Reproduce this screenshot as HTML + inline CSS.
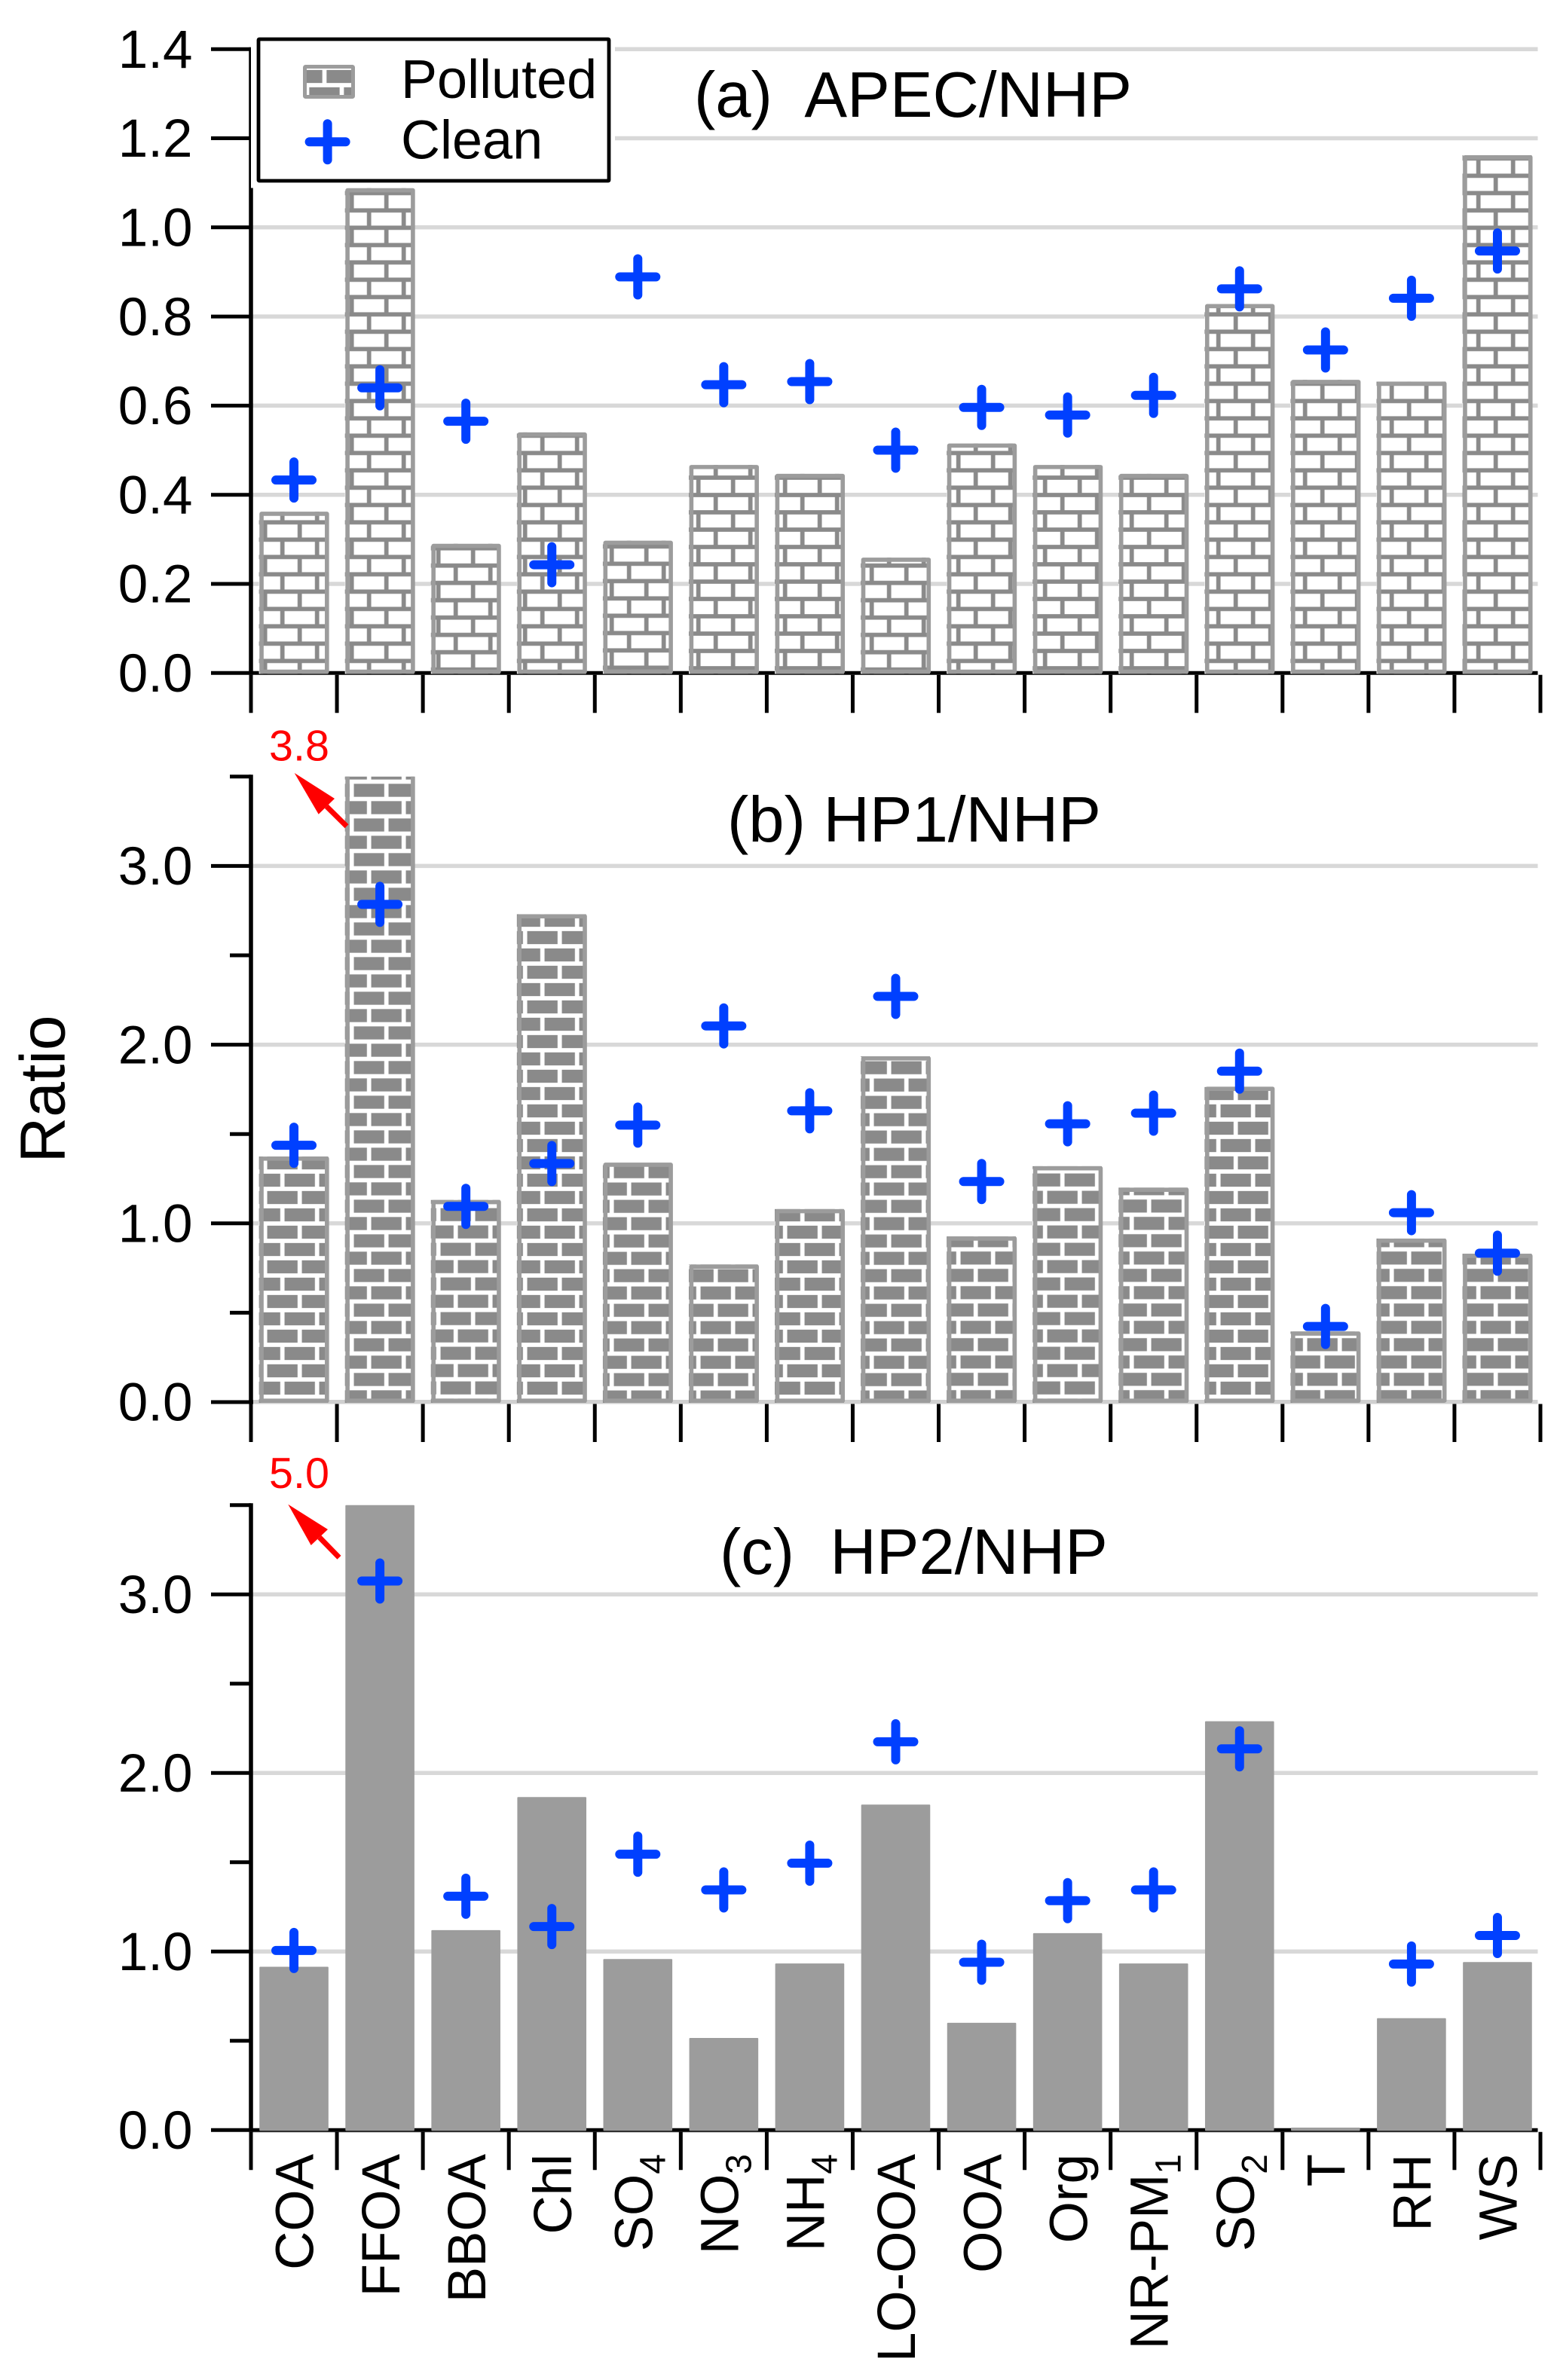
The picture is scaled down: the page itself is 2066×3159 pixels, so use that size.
<!DOCTYPE html>
<html lang="en">
<head>
<meta charset="utf-8">
<title>Pollution ratio chart</title>
<style>
html,body{margin:0;padding:0;background:#fff;}
svg{display:block;}
text{font-family:"Liberation Sans",Arial,sans-serif;fill:#000;white-space:pre;}
</style>
</head>
<body>
<svg id="chart" xmlns="http://www.w3.org/2000/svg" width="2066" height="3159" viewBox="0 0 2066 3159">
  <defs id="defs"></defs>
  <rect width="2066" height="3159" fill="#fff"></rect>
</svg>
<script>
const categories = ['COA','FFOA','BBOA','Chl','SO','NO','NH','LO-OOA','OOA','Org','NR-PM','SO','T','RH','WS'];
const categorySubs = ['','','','','4','3','4','','','','1','2','','',''];

const apecPolluted = [0.362,1.088,0.290,0.540,0.297,0.467,0.447,0.259,0.515,0.467,0.447,0.828,0.658,0.654,1.162];
const apecClean = [0.433,0.640,0.565,0.243,0.889,0.647,0.654,0.500,0.596,0.579,0.623,0.862,0.725,0.841,0.947];
const hp1Polluted = [1.374,3.8,1.131,2.730,1.340,0.770,1.080,1.935,0.927,1.320,1.200,1.765,0.395,0.915,0.830];
const hp1Clean = [1.437,2.785,1.095,1.335,1.550,2.105,1.630,2.270,1.234,1.557,1.617,1.852,0.423,1.060,0.833];
const hp2Polluted = [0.915,5.0,1.120,1.865,0.958,0.516,0.933,1.823,0.601,1.103,0.933,2.290,0.014,0.627,0.941];
const hp2Clean = [1.006,3.075,1.310,1.140,1.545,1.345,1.495,2.175,0.940,1.285,1.345,2.135,null,0.930,1.090];

const apecMajorTicks = [0,0.2,0.4,0.6,0.8,1.0,1.2,1.4];
const hpMajorTicks = [0,1,2,3];
const hpMinorTicks = [0.5,1.5,2.5,3.5];

const apecBrickPhase = [26.3,26.3,14.7,3.3,12.3,36,13,14.7,26.3,36,13,26.3,3.3,3.3,3.3];
const hp1BrickPhase = [37,25.5,13.7,37,2.7,2.7,37,2.7,25.3,13.7,25.3,37,2.3,25.3,25.3];

const NS = 'http://www.w3.org/2000/svg';
const svg = document.getElementById('chart');
const defs = document.getElementById('defs');
const AXIS_LEFT = 333, AXIS_RIGHT = 2040.5, LAST_TICK = 2044;
const STEP = (LAST_TICK - AXIS_LEFT) / categories.length;
const xCenter = i => AXIS_LEFT + (i + 0.5) * STEP;
const GRID = '#d8d8d8', EDGE = '#9c9c9c', BRICK = '#8a8a8a', BLUE = '#0040ff', RED = '#ff0000';

function mk(tag, attrs, parent) {
  const el = document.createElementNS(NS, tag);
  for (const k in attrs) el.setAttribute(k, attrs[k]);
  (parent || svg).appendChild(el);
  return el;
}

function makePattern(id, kind, xOff, yOff) {
  const p = mk('pattern', {id: id, patternUnits: 'userSpaceOnUse', width: 46, height: 46,
    patternTransform: 'translate(' + xOff + ' ' + yOff + ')'}, defs);
  mk('rect', {x: 0, y: 0, width: 46, height: 46, fill: '#fff'}, p);
  const g = 5.7, h = g / 2;
  if (kind === 'dark') {
    mk('rect', {x: h, y: h, width: 46 - g, height: 23 - g, fill: BRICK}, p);
    mk('rect', {x: 0, y: 23 + h, width: 23 - h, height: 23 - g, fill: BRICK}, p);
    mk('rect', {x: 23 + h, y: 23 + h, width: 23 - h, height: 23 - g, fill: BRICK}, p);
  } else {
    mk('rect', {x: 0, y: 0, width: 46, height: h, fill: BRICK}, p);
    mk('rect', {x: 0, y: 46 - h, width: 46, height: h, fill: BRICK}, p);
    mk('rect', {x: 0, y: 23 - h, width: 46, height: g, fill: BRICK}, p);
    mk('rect', {x: 0, y: 0, width: h, height: 23, fill: BRICK}, p);
    mk('rect', {x: 46 - h, y: 0, width: h, height: 23, fill: BRICK}, p);
    mk('rect', {x: 23 - h, y: 23, width: g, height: 23, fill: BRICK}, p);
  }
  return 'url(#' + id + ')';
}

function crossPath(cx, cy) {
  return 'M' + (cx - 24) + ' ' + cy + 'H' + (cx + 24) + 'M' + cx + ' ' + (cy - 24) + 'V' + (cy + 24);
}

function drawPanel(cfg) {
  const y = v => cfg.y0 - Math.min(v, cfg.max) * cfg.scale;
  const group = mk('g', {});
  
  

  // gridlines
  cfg.major.forEach(v => {
    if (v === 0) return;
    const line = mk('line', {x1: AXIS_LEFT, x2: AXIS_RIGHT, y1: y(v), y2: y(v), stroke: GRID, 'stroke-width': 5.5}, group);
    
    
  });
  if (cfg.zeroGridUnder) {
    const zeroUnder = mk('line', {x1: AXIS_LEFT, x2: AXIS_RIGHT, y1: cfg.y0 + 1, y2: cfg.y0 + 1, stroke: GRID, 'stroke-width': 5.5}, group);
    
    
  }

  // x axis
  const axis = mk('line', {x1: AXIS_LEFT, x2: AXIS_RIGHT, y1: cfg.y0, y2: cfg.y0, stroke: '#000', 'stroke-width': 5}, group);
  
  
  if (cfg.zeroGridOver) {
    const zeroOver = mk('line', {x1: AXIS_LEFT + 3, x2: AXIS_RIGHT, y1: cfg.y0 - 0.2, y2: cfg.y0 - 0.2, stroke: '#cfcfcf', 'stroke-width': 5.5}, group);
    
    
  }
  for (let i = 0; i <= categories.length; i++) {
    const xt = AXIS_LEFT + i * STEP;
    const tick = mk('line', {x1: xt, x2: xt, y1: cfg.y0 + 2.5, y2: cfg.y0 + 53, stroke: '#000', 'stroke-width': 5}, group);
    
    
  }

  // y axis
  const yAxis = mk('line', {x1: AXIS_LEFT, x2: AXIS_LEFT, y1: y(cfg.max) - 2.5, y2: cfg.y0 + 2.5, stroke: '#000', 'stroke-width': 5.5}, group);
  
  
  cfg.major.forEach(v => {
    const tick = mk('line', {x1: 280, x2: AXIS_LEFT, y1: y(v), y2: y(v), stroke: '#000', 'stroke-width': 5}, group);
    
    
    const label = mk('text', {x: 255.5, y: y(v) + 24.7, 'font-size': 71, 'text-anchor': 'end'}, group);
    
    
    label.textContent = v.toFixed(1);
  });
  cfg.minor.forEach(v => {
    const tick = mk('line', {x1: 305, x2: AXIS_LEFT, y1: y(v), y2: y(v), stroke: '#000', 'stroke-width': 5}, group);
    
    
  });

  // bars
  cfg.polluted.forEach((v, i) => {
    const c = xCenter(i), top = y(v), bottom = cfg.y0 + 1;
    const clipped = v > cfg.max;
    if (cfg.kind === 'solid') {
      const solidBar = mk('rect', {x: c - 45.8, y: top, width: 91.6, height: bottom - top, fill: EDGE, rx: 1}, group);
      
      
      return;
    }
    const fill = makePattern(cfg.name + '-brick-' + i, cfg.kind, 6.7, cfg.phase[i]);
    const bar = mk('rect', {x: c - 46.4, y: top, width: 91.8, height: bottom - top, fill: fill}, group);
    
    
    const l = c - 43, r = c + 43.8;
    const t = top + 2.8, b = bottom - 2.8;
    const d = clipped
      ? 'M' + l + ' ' + top + 'V' + b + 'H' + r + 'V' + top
      : 'M' + l + ' ' + t + 'H' + r + 'V' + b + 'H' + l + 'Z';
    const edge = mk('path', {d: d, fill: 'none', stroke: EDGE, 'stroke-width': 5.6, 'stroke-linejoin': 'round'}, group);
    
    
  });

  // clean markers
  cfg.clean.forEach((v, i) => {
    if (v === null) return;
    const marker = mk('path', {d: crossPath(xCenter(i), y(v)), stroke: BLUE, 'stroke-width': 12, 'stroke-linecap': 'round', fill: 'none'}, group);
    
    
  });

  // panel title
  const title = mk('text', {x: cfg.titleX, y: cfg.titleY, 'font-size': 85}, group);
  
  
  title.textContent = cfg.title;

  return group;
}

drawPanel({name: 'apec', kind: 'light', y0: 893.3, scale: 591.5, max: 1.4, major: apecMajorTicks, minor: [],
  polluted: apecPolluted, clean: apecClean, phase: apecBrickPhase,
  title: '(a)  APEC/NHP', titleX: 921, titleY: 155});

// legend halo and box drawn above panel (a)
const halo = mk('rect', {x: AXIS_LEFT, y: 40, width: 483, height: 209.5, fill: '#fff'});


const legendBox = mk('rect', {x: 343, y: 52, width: 465, height: 188, fill: '#fff', stroke: '#000', 'stroke-width': 4.8, rx: 1});


const swatch = mk('rect', {x: 404.5, y: 88.5, width: 64, height: 40, fill: makePattern('legend-brick', 'dark', 16.5, 44), stroke: EDGE, 'stroke-width': 5, rx: 1});


const legendCross = mk('path', {d: crossPath(434.6, 188.3), stroke: BLUE, 'stroke-width': 12, 'stroke-linecap': 'round', fill: 'none'});


const legendPolluted = mk('text', {x: 532, y: 130, 'font-size': 72});


legendPolluted.textContent = 'Polluted';
const legendClean = mk('text', {x: 532, y: 210.7, 'font-size': 72});


legendClean.textContent = 'Clean';

drawPanel({name: 'hp1', kind: 'dark', y0: 1861, scale: 237.2, max: 3.5, major: hpMajorTicks, minor: hpMinorTicks,
  polluted: hp1Polluted, clean: hp1Clean, phase: hp1BrickPhase, zeroGridOver: true,
  title: '(b) HP1/NHP', titleX: 965, titleY: 1117});

drawPanel({name: 'hp2', kind: 'solid', y0: 2827.3, scale: 237, max: 3.5, major: hpMajorTicks, minor: hpMinorTicks,
  polluted: hp2Polluted, clean: hp2Clean, zeroGridUnder: true,
  title: '(c)  HP2/NHP', titleX: 955, titleY: 2089});

// off-scale annotations
function drawAnnotation(valueText, textY, tip, c1, c2, tail, name) {
  const txt = mk('text', {x: 357, y: textY, 'font-size': 57.5, 'text-anchor': 'start'});
  
  
  txt.style.fill = RED;
  txt.textContent = valueText;
  const mx = (c1[0] + c2[0]) / 2, my = (c1[1] + c2[1]) / 2;
  const shaft = mk('line', {x1: mx, y1: my, x2: tail[0], y2: tail[1], stroke: RED, 'stroke-width': 7});
  
  
  const head = mk('polygon', {points: [tip, c1, c2].map(p => p.join(',')).join(' '), fill: RED});
  
  
}
drawAnnotation(hp1Polluted[1].toFixed(1), 1009.3, [390.7, 1026], [444, 1060], [422.7, 1080.7], [460, 1096.7], 'hp1');
drawAnnotation(hp2Polluted[1].toFixed(1), 1975, [382.3, 1996.7], [435, 2030], [412.7, 2051], [450, 2067.3], 'hp2');

// y-axis title
const yTitle = mk('text', {transform: 'translate(85.7 1543.5) rotate(-90)', 'font-size': 84});


yTitle.textContent = 'Ratio';

// category labels
categories.forEach((cat, i) => {
  const sub = categorySubs[i];
  const bx = xCenter(i) + (sub ? 19 : 25.7);
  const label = mk('text', {transform: 'translate(' + bx + ' 2859) rotate(-90)', 'font-size': 71, 'text-anchor': 'end'});
  
  
  const main = mk('tspan', {}, label);
  main.textContent = cat;
  if (sub) {
    const s = mk('tspan', {dy: 17, 'font-size': 48}, label);
    s.textContent = sub;
  }
});
</script>
</body>
</html>
